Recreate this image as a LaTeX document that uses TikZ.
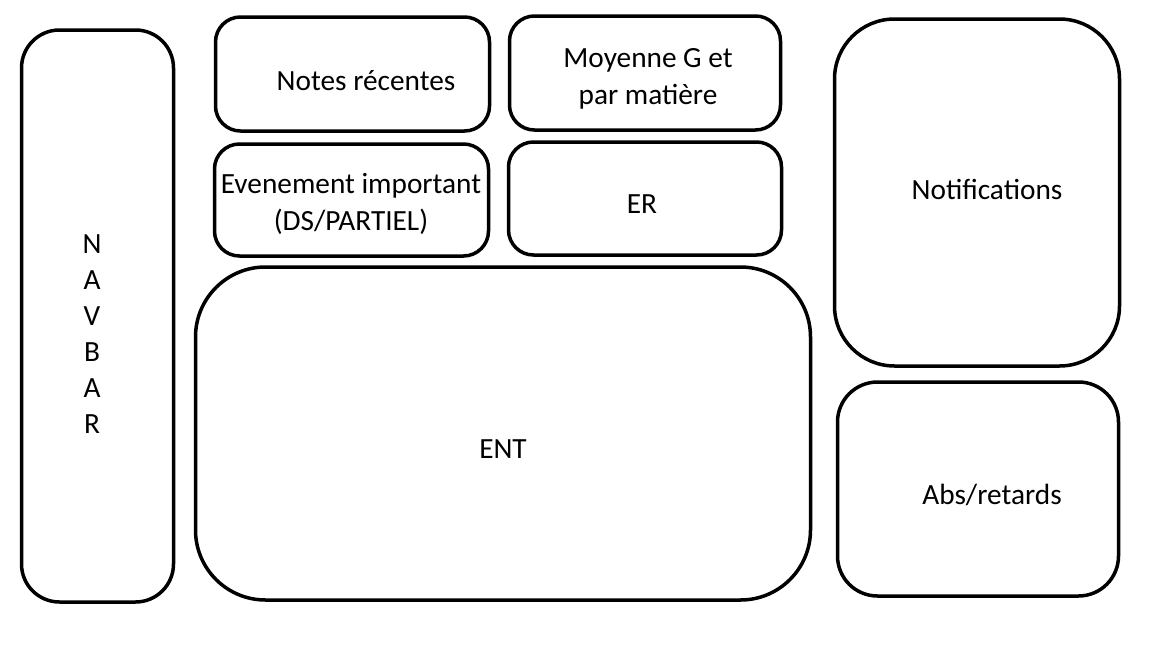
\documentclass[tikz,border=0pt]{standalone}
\usepackage{fontspec}
\setmainfont{Carlito}
\begin{document}
\begin{tikzpicture}[x=1pt,y=-1pt,
  box/.style={draw, line width=3.5pt, rounded corners=#1},
  box/.default=25pt,
  txt/.style={align=center, font=\fontsize{29.3}{36.5}\selectfont}]
  \useasboundingbox (0,0) rectangle (1152,648);
  % boxes
  \node[box=38pt, minimum width=152pt, minimum height=572pt] (navbar) at (97.5,316) {};
  \node[box, minimum width=274pt, minimum height=114pt] (notes) at (352.5,74) {};
  \node[box, minimum width=271pt, minimum height=114pt] (moyenne) at (645,73) {};
  \node[box, minimum width=274pt, minimum height=112pt] (event) at (351.5,200) {};
  \node[box, minimum width=273pt, minimum height=113pt] (er) at (645,198.5) {};
  \node[box=70pt, minimum width=615pt, minimum height=333pt] (ent) at (503,433.5) {};
  \node[box=60pt, minimum width=285pt, minimum height=347pt] (notif) at (977,192.5) {};
  \node[box=40pt, minimum width=281pt, minimum height=214pt] (abs) at (978,489) {};
  % labels
  \node[txt, font=\fontsize{29.3}{36}\selectfont] (navbartxt) at (92,334) {N\\A\\V\\B\\A\\R};
  \node[txt] (notestxt) at (366,81) {Notes récentes};
  \node[txt] (moyennetxt) at (648,79) {Moyenne G et\\par matière};
  \node[txt] (eventtxt) at (351,204) {Evenement important\\(DS/PARTIEL)};
  \node[txt] (ertxt) at (642,204) {ER};
  \node[txt] (enttxt) at (503,449) {ENT};
  \node[txt] (notiftxt) at (987,189) {Notifications};
  \node[txt] (abstxt) at (992,495) {Abs/retards};
\end{tikzpicture}
\end{document}
